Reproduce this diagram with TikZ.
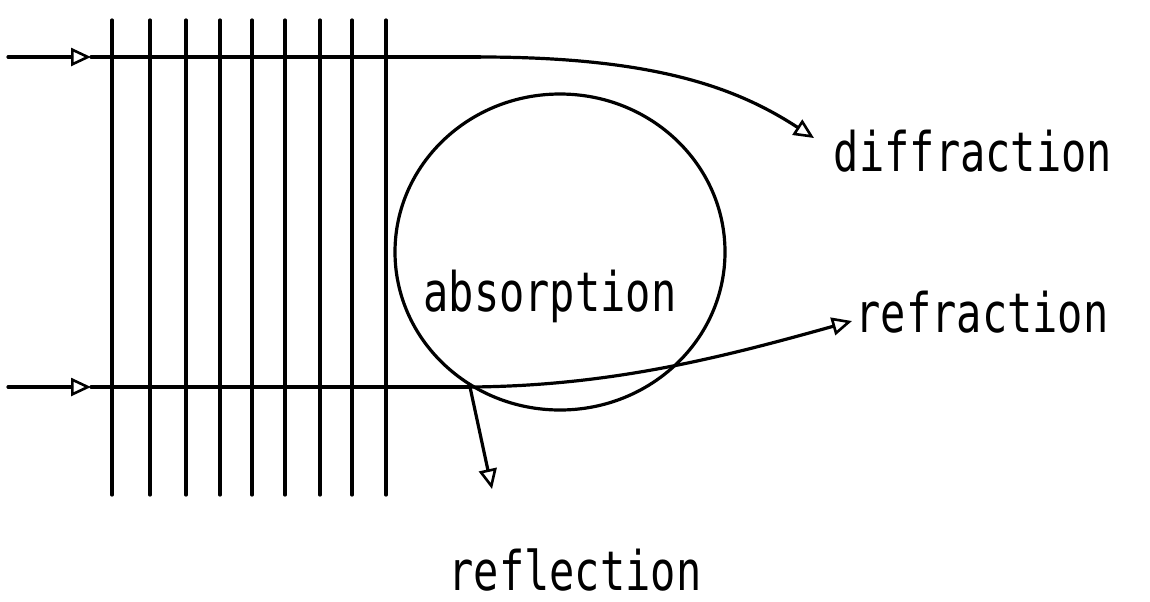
\documentclass[tikz,border=0pt]{standalone}
\usepackage{fontspec}
\setmonofont{DejaVu Sans Mono}
\usetikzlibrary{arrows.meta}
\tikzset{
  ray/.style={line width=1.6pt},
  rayhead/.style={-{Triangle[open,length=10pt,width=9pt,line width=1.3pt]}},
  plotlbl/.style={font=\ttfamily\fontsize{21}{21}\selectfont,inner sep=0pt,yscale=1.3}
}
\begin{document}
\begin{tikzpicture}[x=0.5pt,y=-0.5pt,line cap=round]
  \useasboundingbox (0,0) rectangle (1150,601);
  % wave fronts
  \foreach \xx in {112,150,186,220,252,285,320,352,386}
    \draw[ray] (\xx,20) -- (\xx,495);
  % obstacle
  \draw[ray] (560,252) ellipse (165 and 158);
  % incoming rays
  \coordinate (srcA) at (8,57);
  \coordinate (headA) at (91,57);
  \coordinate (bendA) at (480,57);
  \coordinate (srcB) at (8,387);
  \coordinate (headB) at (91,387);
  \coordinate (hit) at (470,387);
  \draw[ray,rayhead] (srcA) -- (headA);
  \draw[ray] (headA) -- (bendA);
  \draw[ray,rayhead] (srcB) -- (headB);
  \draw[ray] (headB) -- (hit);
  % labels
  \node[plotlbl] (diffr) at (973,151) {diffraction};
  \node[plotlbl] (refr) at (982,312) {refraction};
  \node[plotlbl] (absorp) at (550,296) {absorption};
  \node[plotlbl] (refl) at (575,570) {reflection};
  \coordinate (tipA) at (814,138);
  \coordinate (tipB) at (852,321);
  \coordinate (tipC) at (492,489);
  \draw[ray,rayhead] (bendA) .. controls (660,57) and (740,90) .. (tipA);
  \draw[ray,rayhead] (hit) .. controls (610,386) and (720,358) .. (tipB);
  \draw[ray,rayhead] (hit) -- (tipC);
\end{tikzpicture}
\end{document}
